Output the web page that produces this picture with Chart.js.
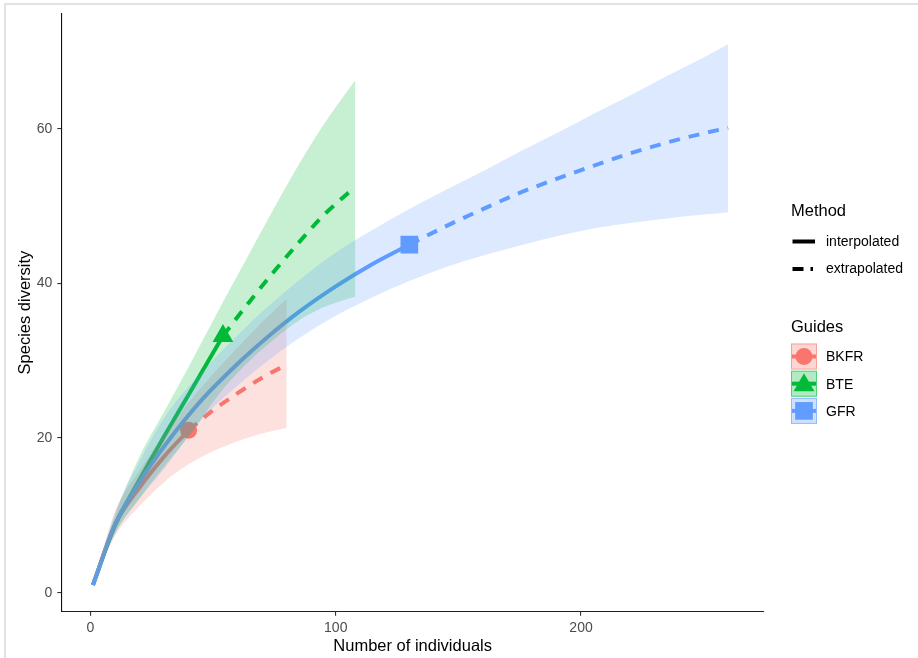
<!DOCTYPE html>
<html>
<head>
<meta charset="utf-8">
<script src="https://cdn.jsdelivr.net/npm/chart.js@4.4.1/dist/chart.umd.min.js"></script>
<style>
html, body { margin: 0; padding: 0; background: #fff; }
#wrap { position: relative; width: 918px; height: 658px; }
</style>
</head>
<body>
<div id="wrap"><canvas id="chart" width="918" height="658"></canvas></div>
<script>
// values: sample size (individuals) -> species diversity
var bkfrN     = [1, 10, 20, 30, 40, 50, 60, 70, 80];
var bkfrS     = [1, 8.8, 13.6, 17.6, 21, 23.6, 25.8, 27.8, 29.5];
var bkfrLower = [1, 7.3, 11.2, 14.3, 16.6, 18.3, 19.6, 20.6, 21.3];
var bkfrUpper = [1, 10.5, 15.8, 20.4, 24.6, 28.3, 31.7, 35, 38];
var bkfrObs   = 40;

var bteN     = [1, 10, 20, 30, 40, 54, 65, 75, 85, 95, 108];
var bteS     = [1, 8.7, 14.6, 20.2, 25.6, 33.2, 37.7, 41.6, 45.3, 48.8, 52.5];
var bteLower = [1, 7.7, 12.2, 16.3, 20.2, 26.3, 30, 32.8, 35.2, 36.9, 38.3];
var bteUpper = [1, 10, 17.6, 23.4, 29.2, 37.6, 44, 49.8, 55.4, 60.5, 66.3];
var bteObs   = 54;

var gfrN     = [1, 10, 20, 30, 45, 60, 72, 85, 100, 115, 130, 145, 160, 175, 190, 205, 220, 235, 250, 260];
var gfrS     = [1, 8.8, 14.3, 18.9, 24.8, 29.6, 33, 36.3, 39.6, 42.5, 45, 47.4, 49.6, 51.7, 53.5, 55.2, 56.8, 58.2, 59.4, 60.1];
var gfrLower = [1, 7.6, 12.2, 16, 22.3, 26.8, 29.9, 32.9, 35.8, 38.2, 40.3, 42.1, 43.6, 44.9, 46.1, 47.1, 47.8, 48.4, 48.9, 49.2];
var gfrUpper = [1, 10.3, 17, 22.6, 28.4, 33.3, 36.9, 40.4, 44, 46.9, 49.6, 52.1, 54.5, 57, 59.4, 61.9, 64.3, 66.8, 69.2, 70.9];
var gfrObs   = 130;

var guideNames  = ['BKFR', 'BTE', 'GFR'];
var methodNames = ['interpolated', 'extrapolated'];
var xTickValues = [0, 100, 200];
var yTickValues = [0, 20, 40, 60];

var FONT = '"Liberation Sans", Arial, sans-serif';

var series = [
  { name: guideNames[0], n: bkfrN, s: bkfrS, lo: bkfrLower, hi: bkfrUpper, obs: bkfrObs, rgb: [248, 118, 109], shape: 'circle', r: 8.5 },
  { name: guideNames[1], n: bteN, s: bteS, lo: bteLower, hi: bteUpper, obs: bteObs, rgb: [0, 186, 56], shape: 'triangle', r: 12 },
  { name: guideNames[2], n: gfrN, s: gfrS, lo: gfrLower, hi: gfrUpper, obs: gfrObs, rgb: [97, 156, 255], shape: 'rect', r: 12.5 }
];

function rgba(rgb, a) {
  return 'rgba(' + rgb[0] + ',' + rgb[1] + ',' + rgb[2] + ',' + a + ')';
}

function pts(xs, ys, keep) {
  var out = [];
  for (var i = 0; i < xs.length; i++) {
    if (!keep || keep(xs[i])) out.push({ x: xs[i], y: ys[i] });
  }
  return out;
}

var datasets = [];
series.forEach(function(sr, k) {
  var col = rgba(sr.rgb, 1);
  // ribbon: lower edge, then upper edge filled down to it (drawn on top, like ggiNEXT)
  datasets.push({
    label: sr.name + ' lower', data: pts(sr.n, sr.lo),
    borderWidth: 0, pointRadius: 0, fill: false, order: 12 - k,
    cubicInterpolationMode: 'monotone'
  });
  datasets.push({
    label: sr.name + ' upper', data: pts(sr.n, sr.hi),
    borderWidth: 0, pointRadius: 0, fill: '-1', backgroundColor: rgba(sr.rgb, 0.22),
    order: 12 - k, cubicInterpolationMode: 'monotone'
  });
  datasets.push({
    label: sr.name + ' ' + methodNames[0], data: pts(sr.n, sr.s, function(v) { return v <= sr.obs; }),
    borderColor: col, borderWidth: 4, pointRadius: 0, fill: false, order: 22 - k,
    cubicInterpolationMode: 'monotone'
  });
  datasets.push({
    label: sr.name + ' ' + methodNames[1], data: pts(sr.n, sr.s, function(v) { return v >= sr.obs; }),
    borderColor: col, borderWidth: 4, borderDash: [11, 9], pointRadius: 0, fill: false, order: 22 - k,
    cubicInterpolationMode: 'monotone'
  });
  datasets.push({
    label: sr.name + ' observed', data: pts(sr.n, sr.s, function(v) { return v === sr.obs; }),
    showLine: false, pointStyle: sr.shape, pointRadius: sr.r, pointBackgroundColor: col,
    pointBorderWidth: 0, borderColor: col, order: 32 - k
  });
});

function drawShape(c, shape, x, y, r) {
  c.beginPath();
  if (shape === 'circle') {
    c.arc(x, y, r, 0, Math.PI * 2);
  } else if (shape === 'triangle') {
    c.moveTo(x, y - r);
    c.lineTo(x + r * Math.sin(2 * Math.PI / 3), y - r * Math.cos(2 * Math.PI / 3));
    c.lineTo(x + r * Math.sin(4 * Math.PI / 3), y - r * Math.cos(4 * Math.PI / 3));
    c.closePath();
  } else {
    var h = r * Math.SQRT1_2;
    c.rect(x - h, y - h, 2 * h, 2 * h);
  }
  c.fill();
}

var ggLegend = {
  id: 'ggLegend',
  beforeDraw: function(chart) {
    var c = chart.ctx;
    c.save();
    c.strokeStyle = '#e2e2df';
    c.lineWidth = 2;
    c.beginPath();
    c.moveTo(5, 658); c.lineTo(5, 4); c.lineTo(918, 4);
    c.stroke();
    c.restore();
  },
  afterDraw: function(chart) {
    var c = chart.ctx;
    c.save();
    c.fillStyle = '#000';
    c.textAlign = 'left';
    c.textBaseline = 'middle';

    c.font = '16.5px ' + FONT;
    c.fillText('Method', 791, 211);
    c.font = '14px ' + FONT;
    c.fillText(methodNames[0], 826, 242);
    c.fillText(methodNames[1], 826, 269.5);

    c.strokeStyle = '#000';
    c.lineWidth = 4;
    c.beginPath(); c.moveTo(792.5, 241.5); c.lineTo(815, 241.5); c.stroke();
    c.setLineDash([11, 7]);
    c.beginPath(); c.moveTo(792.5, 269); c.lineTo(813, 269); c.stroke();
    c.setLineDash([]);

    c.font = '16.5px ' + FONT;
    c.fillStyle = '#000';
    c.fillText('Guides', 791, 327);

    series.forEach(function(sr, k) {
      var top = 343.5 + k * 27.2, cy = top + 13;
      c.fillStyle = rgba(sr.rgb, 0.3);
      c.fillRect(791, top, 26, 26);
      c.strokeStyle = rgba(sr.rgb, 0.55);
      c.lineWidth = 1;
      c.strokeRect(791.5, top + 0.5, 25, 25);
      c.strokeStyle = rgba(sr.rgb, 1);
      c.lineWidth = 4;
      c.beginPath(); c.moveTo(792, cy); c.lineTo(816, cy); c.stroke();
      c.fillStyle = rgba(sr.rgb, 1);
      drawShape(c, sr.shape, 804, cy + (sr.shape === 'triangle' ? 1.5 : 0), sr.r);
      c.fillStyle = '#000';
      c.font = '14px ' + FONT;
      c.fillText(sr.name, 826, cy + 1);
    });
    c.restore();
  }
};

var axisTick = { color: '#333', lineWidth: 1.1, drawOnChartArea: false, drawTicks: true, tickLength: 4 };

new Chart(document.getElementById('chart').getContext('2d'), {
  type: 'line',
  data: { datasets: datasets },
  plugins: [ggLegend],
  options: {
    responsive: false,
    animation: false,
    events: [],
    layout: { padding: { top: 13.3, right: 154, left: 0, bottom: 0 } },
    plugins: { legend: { display: false }, tooltip: { enabled: false } },
    scales: {
      x: {
        type: 'linear', min: -11.9, max: 274.6,
        grid: axisTick,
        border: { display: true, color: '#222', width: 1.1 },
        ticks: { color: '#4D4D4D', padding: 4, font: { family: FONT, size: 14 } },
        afterBuildTicks: function(scale) { scale.ticks = xTickValues.map(function(v) { return { value: v }; }); },
        afterFit: function(scale) { scale.height = 46.3; },
        title: { display: true, text: 'Number of individuals', color: '#000', padding: { top: 0, bottom: 1.4 }, font: { family: FONT, size: 16.5 } }
      },
      y: {
        type: 'linear', min: -2.45, max: 74.9,
        grid: axisTick,
        border: { display: true, color: '#111', width: 1.1 },
        ticks: { color: '#4D4D4D', padding: 5, font: { family: FONT, size: 14 } },
        afterBuildTicks: function(scale) { scale.ticks = yTickValues.map(function(v) { return { value: v }; }); },
        afterFit: function(scale) { scale.width = 61.3; },
        title: { display: true, text: 'Species diversity', color: '#000', padding: { top: 15.6, bottom: 0 }, font: { family: FONT, size: 16.5 } }
      }
    }
  }
});
</script>
</body>
</html>
